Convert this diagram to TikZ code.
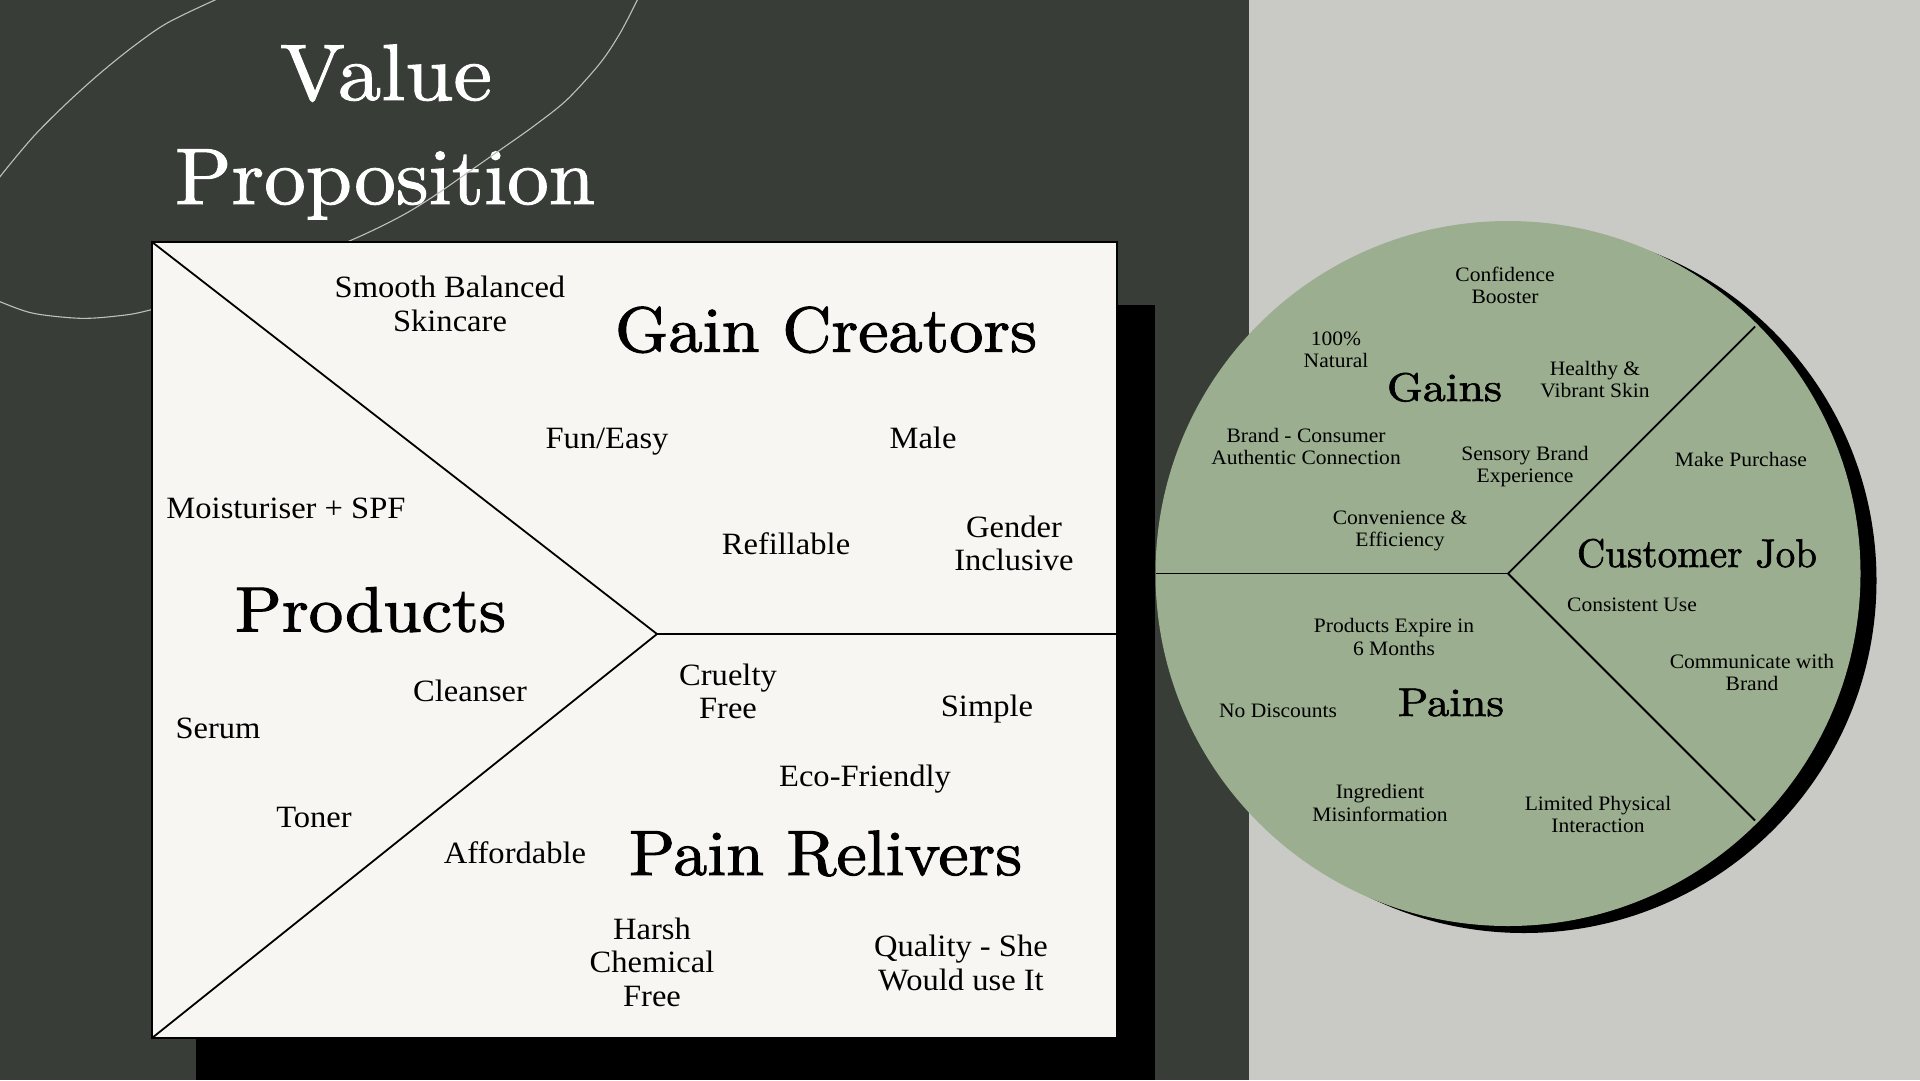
\documentclass[tikz,border=0pt]{standalone}
\usepackage{fontspec}
\usepackage{graphicx}
\newfontfamily\smfont[FakeStretch=1.05]{Liberation Serif}
\newfontfamily\hdfont{lmroman10-regular.otf}[FakeBold=1.5]
\newfontfamily\ttlfont{lmroman10-regular.otf}[FakeBold=1.2]
\definecolor{darkbg}{RGB}{56,62,55}
\definecolor{lightbg}{RGB}{201,202,197}
\definecolor{boxfill}{RGB}{247,246,242}
\definecolor{sage}{RGB}{155,174,143}
\definecolor{decoline}{RGB}{190,192,186}
\newcommand\wfit[2]{\resizebox{#1}{\height}{#2}}
\newcommand\ml[1]{\begin{tabular}[t]{@{}c@{}}#1\end{tabular}}
\tikzset{
  boxtxt/.style={anchor=base, inner sep=0pt, font=\smfont\fontsize{31}{33.7}\selectfont},
  circtxt/.style={anchor=base, inner sep=0pt, font=\smfont\fontsize{20.5}{22.6}\selectfont},
  headbig/.style={anchor=base, inner sep=0pt, font=\hdfont\fontsize{64}{64}\selectfont},
  headsml/.style={anchor=base, inner sep=0pt, font=\hdfont\fontsize{40}{40}\selectfont},
  titletxt/.style={anchor=base, inner sep=0pt, text=white, font=\ttlfont\fontsize{80}{80}\selectfont},
  deco/.style={draw=decoline, line width=1.1pt},
  divline/.style={draw=black, line width=1.8pt},
}
\begin{document}
\begin{tikzpicture}[x=1pt,y=-1pt]
\useasboundingbox (0,0) rectangle (1920,1080);
% backgrounds
\fill[darkbg] (0,0) rectangle (1249,1080);
\fill[lightbg] (1249,0) rectangle (1920,1080);
% title
\node[titletxt] (value) at (386,100) {\wfit{212pt}{Value}};
\node[titletxt] (proposition) at (385,204) {\wfit{420pt}{Proposition}};
% decorative ellipse arcs
\draw[deco] plot[smooth] coordinates {(240,-10) (215,0) (166.7,23.3) (133,46.7) (100,73.3) (66.7,103.3) (33.3,136.7) (0,176.7) (-8,190)};
\draw[deco] plot[smooth] coordinates {(643,-14) (637.3,0) (620,33.3) (600,63.3) (566.7,100) (533,126.7) (500,150) (466.7,173.3) (433,196.7) (400,216.7) (350,240.7) (250,281) (150,310) (116.7,316) (80,318.3) (33.3,313.3) (0,301.7) (-15,294)};
% value map box
\coordinate (tl) at (152,242);
\coordinate (br) at (1117,1038);
\coordinate (bl) at (152,1038);
\coordinate (apex) at (657,634);
\coordinate (rm) at (1117,634);
\fill[black] (196,305) rectangle (1155,1080);
\draw[fill=boxfill, draw=black, line width=2pt] (tl) rectangle (br);
\draw[divline] (tl) -- (apex) -- (bl);
\draw[divline] (apex) -- (rm);
% headings in box
\node[headbig] (gaincreators) at (826,351.7) {\wfit{422pt}{Gain Creators}};
\node[headbig] (products) at (370.5,631.5) {\wfit{271pt}{Products}};
\node[headbig] (painrelivers) at (825.5,875) {\wfit{393pt}{Pain Relivers}};
% box items
\node[boxtxt] (smooth) at (450,297.7) {\ml{Smooth Balanced\\Skincare}};
\node[boxtxt] (funeasy) at (607,448) {Fun/Easy};
\node[boxtxt] (male) at (923,448) {Male};
\node[boxtxt] (moist) at (286,518) {Moisturiser + SPF};
\node[boxtxt] (refill) at (786,554) {Refillable};
\node[boxtxt] (gender) at (1014,537) {\ml{Gender\\Inclusive}};
\node[boxtxt] (cleanser) at (470,701.7) {Cleanser};
\node[boxtxt] (serum) at (218,738) {Serum};
\node[boxtxt] (cruelty) at (728,685) {\ml{Cruelty\\Free}};
\node[boxtxt] (simple) at (987,716.7) {Simple};
\node[boxtxt] (eco) at (865,786.7) {Eco-Friendly};
\node[boxtxt] (toner) at (314,827) {Toner};
\node[boxtxt] (afford) at (515,863) {Affordable};
\node[boxtxt] (harsh) at (652,939) {\ml{Harsh\\Chemical\\Free}};
\node[boxtxt] (quality) at (961,956.7) {\ml{Quality - She\\Would use It}};
% customer profile circle
\coordinate (cc) at (1508,573.5);
\fill[black] (1524,580.5) circle (352.5pt);
\fill[sage] (cc) circle (352.5pt);
\coordinate (cleft) at (1155.5,573.5);
\coordinate (cup) at (1755,326.5);
\coordinate (cdown) at (1755,820.5);
\draw[divline] (cleft) -- (cc);
\draw[divline] (cc) -- (cup);
\draw[divline] (cc) -- (cdown);
\node[headsml] (gains) at (1444.5,401) {\wfit{115pt}{Gains}};
\node[headsml] (pains) at (1451,716) {\wfit{106pt}{Pains}};
\node[headsml] (customerjob) at (1697,567) {\wfit{240pt}{Customer Job}};
\node[circtxt] (confidence) at (1505,281) {\ml{Confidence\\Booster}};
\node[circtxt] (natural) at (1336,345) {\ml{100\%\\Natural}};
\node[circtxt] (healthy) at (1595,375) {\ml{Healthy \&\\Vibrant Skin}};
\node[circtxt] (brand) at (1306,442) {\ml{Brand - Consumer\\Authentic Connection}};
\node[circtxt] (sensory) at (1525,460) {\ml{Sensory Brand\\Experience}};
\node[circtxt] (purchase) at (1741,466.7) {Make Purchase};
\node[circtxt] (convenience) at (1400,524) {\ml{Convenience \&\\Efficiency}};
\node[circtxt] (consistent) at (1632,611) {Consistent Use};
\node[circtxt] (expire) at (1394,632.7) {\ml{Products Expire in\\6 Months}};
\node[circtxt] (communicate) at (1752,668) {\ml{Communicate with\\Brand}};
\node[circtxt] (nodisc) at (1278,717.7) {No Discounts};
\node[circtxt] (ingredient) at (1380,798.7) {\ml{Ingredient\\Misinformation}};
\node[circtxt] (limited) at (1598,810) {\ml{Limited Physical\\Interaction}};
\end{tikzpicture}
\end{document}
